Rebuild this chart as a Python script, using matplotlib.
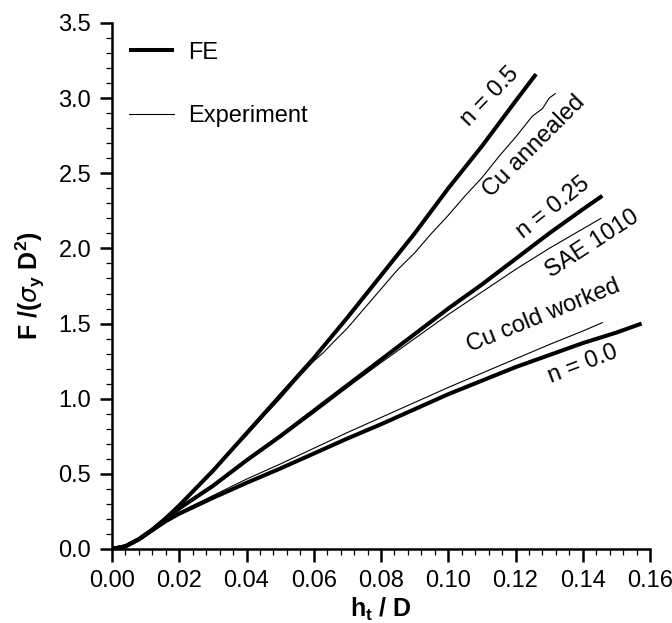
import numpy as np
import matplotlib
matplotlib.use('Agg')
import matplotlib.pyplot as plt
from matplotlib.ticker import MultipleLocator

plt.rcParams['font.family'] = ['Liberation Sans', 'DejaVu Sans']
plt.rcParams['mathtext.fontset'] = 'custom'
plt.rcParams['mathtext.rm'] = 'Liberation Sans'
plt.rcParams['mathtext.bf'] = 'Liberation Sans:bold'

# FE curves (h_t/D, F/(sigma_y D^2))
fe05_x = [0, 0.004, 0.008, 0.012, 0.016, 0.02, 0.03, 0.04, 0.05, 0.06, 0.07, 0.08, 0.09, 0.10, 0.11, 0.12, 0.1261]
fe05_y = [0, 0.018, 0.066, 0.13, 0.205, 0.29, 0.52, 0.77, 1.02, 1.27, 1.54, 1.82, 2.10, 2.40, 2.68, 2.98, 3.16]

fe025_x = [0, 0.004, 0.008, 0.012, 0.016, 0.02, 0.03, 0.04, 0.05, 0.06, 0.07, 0.08, 0.09, 0.10, 0.11, 0.12, 0.13, 0.14, 0.1458]
fe025_y = [0, 0.018, 0.065, 0.128, 0.2, 0.27, 0.42, 0.59, 0.75, 0.92, 1.09, 1.26, 1.43, 1.60, 1.76, 1.93, 2.10, 2.26, 2.35]

fe00_x = [0, 0.004, 0.008, 0.012, 0.016, 0.02, 0.03, 0.04, 0.05, 0.06, 0.07, 0.08, 0.09, 0.10, 0.11, 0.12, 0.13, 0.14, 0.15, 0.1575]
fe00_y = [0, 0.018, 0.064, 0.125, 0.185, 0.235, 0.34, 0.44, 0.535, 0.635, 0.735, 0.83, 0.93, 1.03, 1.12, 1.21, 1.29, 1.37, 1.44, 1.50]

# Experiments
cuann_x = [0, 0.004, 0.008, 0.012, 0.016, 0.02, 0.025, 0.03, 0.035, 0.04, 0.045, 0.05, 0.055, 0.06, 0.063, 0.066,
           0.07, 0.075, 0.08, 0.085, 0.09, 0.095, 0.10, 0.105, 0.11, 0.115, 0.12, 0.125, 0.128, 0.13, 0.1318]
cuann_y = [0, 0.018, 0.066, 0.13, 0.2, 0.28, 0.4, 0.51, 0.64, 0.755, 0.88, 1.0, 1.13, 1.25, 1.31, 1.38,
           1.47, 1.6, 1.73, 1.86, 1.97, 2.1, 2.22, 2.35, 2.47, 2.61, 2.74, 2.88, 2.93, 3.0, 3.03]

sae_x = [0, 0.004, 0.008, 0.012, 0.016, 0.02, 0.03, 0.04, 0.05, 0.06, 0.07, 0.08, 0.09, 0.10, 0.11, 0.12, 0.13, 0.14, 0.1454]
sae_y = [0, 0.018, 0.065, 0.127, 0.198, 0.265, 0.41, 0.58, 0.74, 0.905, 1.075, 1.24, 1.40, 1.56, 1.71, 1.86, 2.00, 2.13, 2.20]

cucw_x = [0, 0.004, 0.008, 0.012, 0.016, 0.02, 0.03, 0.04, 0.05, 0.06, 0.07, 0.08, 0.09, 0.10, 0.11, 0.12, 0.13, 0.14, 0.1458]
cucw_y = [0, 0.018, 0.064, 0.126, 0.19, 0.245, 0.355, 0.465, 0.565, 0.67, 0.775, 0.875, 0.975, 1.075, 1.17, 1.265, 1.36, 1.45, 1.506]

# curve labels: text, x, y, angle
lbl_text = ['n = 0.5', 'Cu annealed', 'n = 0.25', 'SAE 1010', 'Cu cold worked', 'n = 0.0']
lbl_x = [0.1124, 0.1255, 0.1312, 0.1427, 0.1283, 0.1400]
lbl_y = [3.01, 2.68, 2.27, 2.03, 1.55, 1.23]
lbl_rot = [46, 45, 38, 33, 22, 21]

fig = plt.figure(figsize=(6.72, 6.23), dpi=100)
ax = fig.add_axes([0.1667, 0.1188, 0.8006, 0.8443])

thick = 2.9
thin = 0.8
ax.plot(fe05_x, fe05_y, color='black', lw=thick, label='FE', solid_capstyle='butt')
ax.plot(fe025_x, fe025_y, color='black', lw=thick, solid_capstyle='butt')
ax.plot(fe00_x, fe00_y, color='black', lw=thick, solid_capstyle='butt')
ax.plot(cuann_x, cuann_y, color='black', lw=thin, label='Experiment')
ax.plot(sae_x, sae_y, color='black', lw=thin)
ax.plot(cucw_x, cucw_y, color='black', lw=thin)

for t, x, y, r in zip(lbl_text, lbl_x, lbl_y, lbl_rot):
    ax.text(x, y, t, rotation=r, rotation_mode='anchor', ha='center', va='center', fontsize=17)

ax.set_xlim(0, 0.16)
ax.set_ylim(0, 3.5)
ax.xaxis.set_major_locator(MultipleLocator(0.02))
ax.xaxis.set_minor_locator(MultipleLocator(0.004))
ax.yaxis.set_major_locator(MultipleLocator(0.5))
ax.yaxis.set_minor_locator(MultipleLocator(0.1))
ax.xaxis.set_major_formatter(plt.FormatStrFormatter('%.2f'))
ax.yaxis.set_major_formatter(plt.FormatStrFormatter('%.1f'))

ax.spines['top'].set_visible(False)
ax.spines['right'].set_visible(False)
ax.spines['left'].set_linewidth(1.8)
ax.spines['bottom'].set_linewidth(1.8)
ax.tick_params(which='major', direction='out', length=9, width=1.8, labelsize=17, pad=6)
ax.tick_params(which='minor', direction='out', length=4.5, width=0.9)

ax.set_xlabel(r'h$_\mathbf{t}$ / D', fontsize=18, fontweight='bold', labelpad=3)
ax.set_ylabel(r'F /($\sigma_\mathbf{y}$ D$^\mathbf{2}$)', fontsize=18, fontweight='bold', labelpad=8)

ax.legend(loc='upper left', bbox_to_anchor=(-0.008, 1.005), frameon=False, fontsize=17,
          handlelength=1.9, handletextpad=0.6, labelspacing=1.75)

fig.savefig('out.png', dpi=100)
